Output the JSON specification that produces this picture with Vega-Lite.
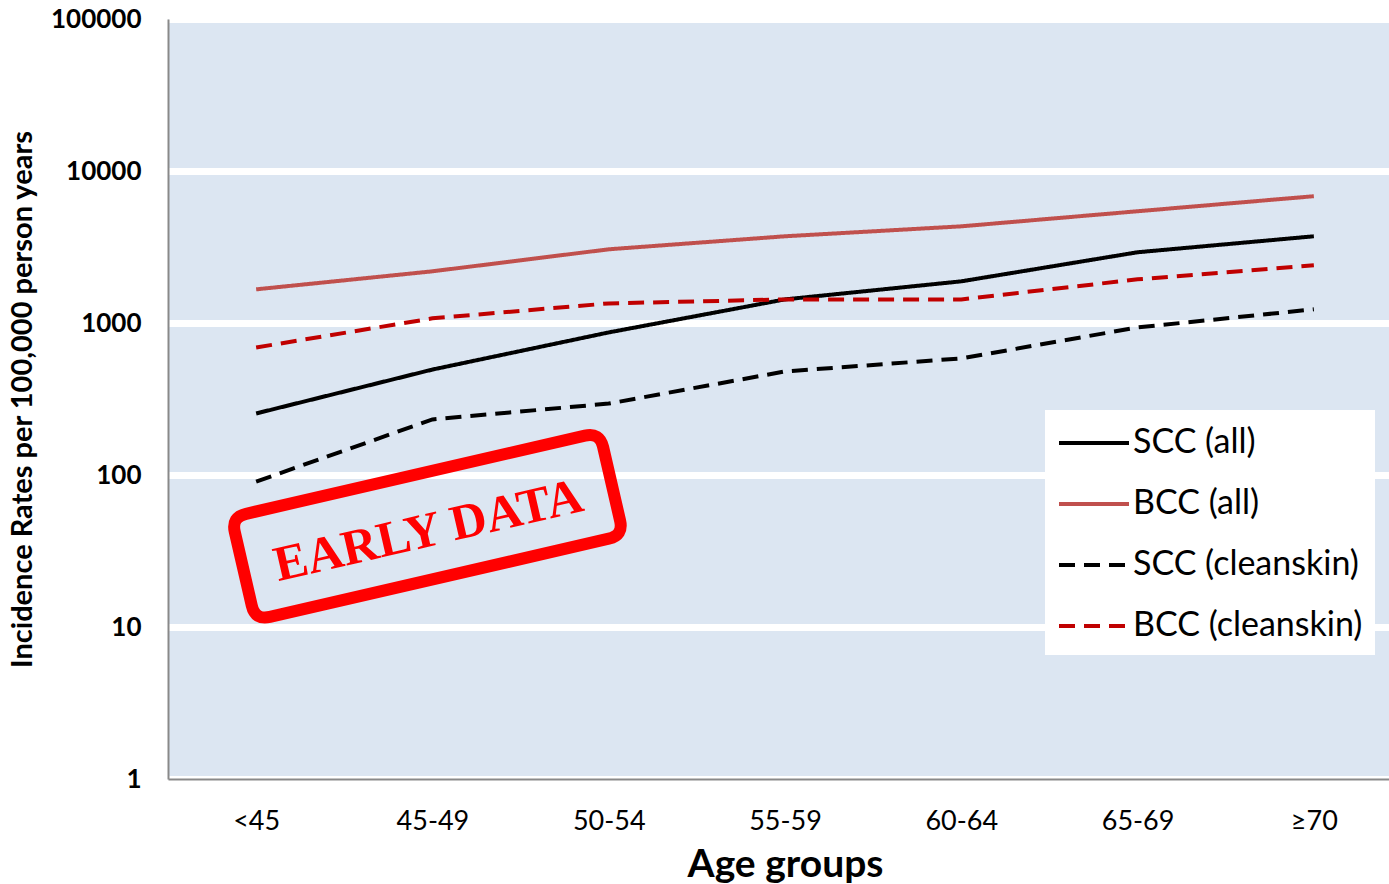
{
  "$schema": "https://vega.github.io/schema/vega-lite/v6.json",
  "width": 1234,
  "height": 760,
  "autosize": {"type": "none"},
  "padding": {"left": 168, "top": 19, "right": -13, "bottom": 105},
  "background": "white",
  "config": {"view": {"fill": "#dce6f2", "stroke": null}, "font": "Lato"},
  "layer": [
    {
      "data": {
        "values": [
          {"age": "<45", "series": "SCC (all)", "rate": 254},
          {"age": "45-49", "series": "SCC (all)", "rate": 494},
          {"age": "50-54", "series": "SCC (all)", "rate": 867},
          {"age": "55-59", "series": "SCC (all)", "rate": 1430},
          {"age": "60-64", "series": "SCC (all)", "rate": 1880},
          {"age": "65-69", "series": "SCC (all)", "rate": 2920},
          {"age": "≥70", "series": "SCC (all)", "rate": 3720},
          {"age": "<45", "series": "BCC (all)", "rate": 1665},
          {"age": "45-49", "series": "BCC (all)", "rate": 2188},
          {"age": "50-54", "series": "BCC (all)", "rate": 3054},
          {"age": "55-59", "series": "BCC (all)", "rate": 3720},
          {"age": "60-64", "series": "BCC (all)", "rate": 4325},
          {"age": "65-69", "series": "BCC (all)", "rate": 5435},
          {"age": "≥70", "series": "BCC (all)", "rate": 6827},
          {"age": "<45", "series": "SCC (cleanskin)", "rate": 90.5},
          {"age": "45-49", "series": "SCC (cleanskin)", "rate": 232},
          {"age": "50-54", "series": "SCC (cleanskin)", "rate": 295},
          {"age": "55-59", "series": "SCC (cleanskin)", "rate": 480},
          {"age": "60-64", "series": "SCC (cleanskin)", "rate": 585},
          {"age": "65-69", "series": "SCC (cleanskin)", "rate": 935},
          {"age": "≥70", "series": "SCC (cleanskin)", "rate": 1230},
          {"age": "<45", "series": "BCC (cleanskin)", "rate": 690},
          {"age": "45-49", "series": "BCC (cleanskin)", "rate": 1073},
          {"age": "50-54", "series": "BCC (cleanskin)", "rate": 1346},
          {"age": "55-59", "series": "BCC (cleanskin)", "rate": 1430},
          {"age": "60-64", "series": "BCC (cleanskin)", "rate": 1430},
          {"age": "65-69", "series": "BCC (cleanskin)", "rate": 1937},
          {"age": "≥70", "series": "BCC (cleanskin)", "rate": 2398}
        ]
      },
      "mark": {"type": "line", "strokeWidth": 4},
      "encoding": {
        "x": {
          "field": "age",
          "type": "ordinal",
          "scale": {"type": "point", "padding": 0.5, "domain": ["<45", "45-49", "50-54", "55-59", "60-64", "65-69", "≥70"]},
          "axis": {
            "title": "Age groups",
            "titleFontSize": 39,
            "titleFontWeight": "bold",
            "titleColor": "black",
            "titlePadding": 11,
            "labelFontSize": 27,
            "labelColor": "black",
            "labelPadding": 29,
            "labelAngle": 0,
            "ticks": false,
            "grid": false,
            "domainColor": "#898989",
            "domainWidth": 2
          }
        },
        "y": {
          "field": "rate",
          "type": "quantitative",
          "scale": {"type": "log", "domain": [1, 100000]},
          "axis": {
            "title": "Incidence Rates per 100,000 person years",
            "titleFontSize": 29,
            "titleFontWeight": "bold",
            "titleColor": "black",
            "titlePadding": 13,
            "values": [1, 10, 100, 1000, 10000, 100000],
            "format": "d",
            "labelFontSize": 26,
            "labelFontWeight": "bold",
            "labelColor": "black",
            "labelPadding": 27,
            "ticks": false,
            "grid": true,
            "gridColor": "white",
            "gridWidth": 7,
            "domainColor": "#898989",
            "domainWidth": 2
          }
        },
        "color": {
          "field": "series",
          "type": "nominal",
          "scale": {"domain": ["SCC (all)", "BCC (all)", "SCC (cleanskin)", "BCC (cleanskin)"], "range": ["#000000", "#c0504d", "#000000", "#c00000"]},
          "legend": {
            "orient": "none", "legendX": 877, "legendY": 391, "title": null,
            "fillColor": "white", "padding": 12,
            "symbolType": "M-1,0H2.684", "symbolSize": 1444, "symbolStrokeWidth": 4,
            "labelFontSize": 34, "labelColor": "black", "labelOffset": 34, "labelLimit": 400, "rowPadding": 23
          }
        },
        "strokeDash": {
          "field": "series",
          "type": "nominal",
          "scale": {"domain": ["SCC (all)", "BCC (all)", "SCC (cleanskin)", "BCC (cleanskin)"], "range": [[1, 0], [1, 0], [16, 9], [16, 9]]},
          "legend": {
            "orient": "none", "legendX": 877, "legendY": 391, "title": null,
            "fillColor": "white", "padding": 12,
            "symbolType": "M-1,0H2.684", "symbolSize": 1444, "symbolStrokeWidth": 4,
            "labelFontSize": 34, "labelColor": "black", "labelOffset": 34, "labelLimit": 400, "rowPadding": 23
          }
        }
      }
    },
    {
      "data": {"values": [{"age": "45-49", "rate": 46, "label": "EARLY DATA"}]},
      "mark": {
        "type": "point",
        "shape": "M-0.92,-0.28L0.92,-0.28Q1,-0.28 1,-0.2L1,0.2Q1,0.28 0.92,0.28L-0.92,0.28Q-1,0.28 -1,0.2L-1,-0.2Q-1,-0.28 -0.92,-0.28Z",
        "size": 142884,
        "angle": -13,
        "filled": false,
        "fill": null,
        "stroke": "#ff0000",
        "strokeWidth": 12,
        "opacity": 1,
        "xOffset": -5
      },
      "encoding": {
        "x": {"field": "age", "type": "ordinal"},
        "y": {"field": "rate", "type": "quantitative"}
      }
    },
    {
      "data": {"values": [{"age": "45-49", "rate": 46, "label": "EARLY DATA"}]},
      "mark": {
        "type": "text",
        "angle": -13,
        "font": "Liberation Serif",
        "fontWeight": "bold",
        "fontSize": 50,
        "color": "#ff0000",
        "align": "center",
        "baseline": "middle",
        "xOffset": -4,
        "yOffset": 5
      },
      "encoding": {
        "x": {"field": "age", "type": "ordinal"},
        "y": {"field": "rate", "type": "quantitative"},
        "text": {"field": "label"}
      }
    }
  ]
}
